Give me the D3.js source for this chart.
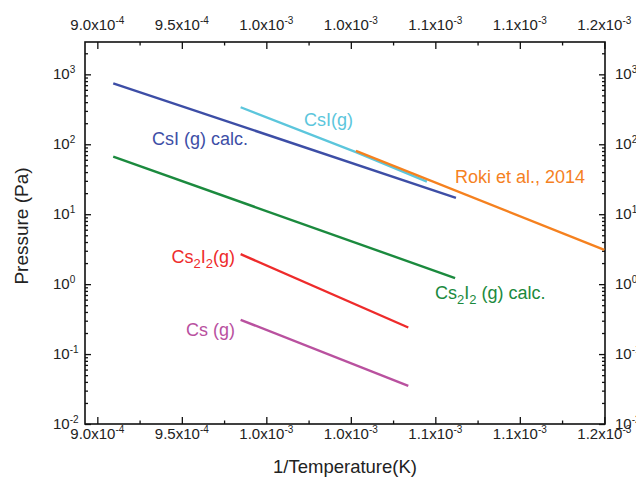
<!DOCTYPE html>
<html>
<head>
<meta charset="utf-8">
<script src="https://cdn.jsdelivr.net/npm/d3@7"></script>
<style>
  html, body { margin: 0; padding: 0; background: #fff; }
  svg { display: block; font-family: Arial, "Liberation Sans", sans-serif; }
</style>
</head>
<body>
<svg id="chart" width="636" height="479"></svg>
<script>
// Vapour pressure vs inverse temperature (log scale)
const xTickValues = [9.0e-4, 9.5e-4, 1.0e-3, 1.05e-3, 1.1e-3, 1.15e-3, 1.2e-3];
const xTickMantissa = ["9.0", "9.5", "1.0", "1.0", "1.1", "1.1", "1.2"];
const xTickExponent = ["-4", "-4", "-3", "-3", "-3", "-3", "-3"];
const yTickValues = [1e-2, 1e-1, 1e0, 1e1, 1e2, 1e3];
const yTickExponent = ["-2", "-1", "0", "1", "2", "3"];

// Each series: [1/T, pressure in Pa] end points
const csiCalc = [[9.094e-4, 744], [1.1122e-3, 17.1]];
const cs2i2Calc = [[9.094e-4, 66.5], [1.1117e-3, 1.22]];
const csiMeas = [[9.848e-4, 352], [1.053e-3, 80.2], [1.095e-3, 30.5]];
const roki2014 = [[1.053e-3, 80.2], [1.2e-3, 3.1]];
const cs2i2Meas = [[9.848e-4, 2.68], [1.084e-3, 0.240]];
const csMeas = [[9.848e-4, 0.309], [1.084e-3, 0.0352]];

// names split into [text, isSubscript] runs
const seriesNames = [
  [["CsI (g) calc.", false]],
  [["Cs", false], ["2", true], ["I", false], ["2", true], [" (g) calc.", false]],
  [["CsI(g)", false]],
  [["Roki et al., 2014", false]],
  [["Cs", false], ["2", true], ["I", false], ["2", true], ["(g)", false]],
  [["Cs (g)", false]]
];
const seriesData = [csiCalc, cs2i2Calc, csiMeas, roki2014, cs2i2Meas, csMeas];
const seriesColors = ["#3d4ea6", "#1b8a3e", "#5cc6dc", "#f5811f", "#ee2b2b", "#b9519f"];

const svg = d3.select("#chart");
const plot = { left: 85, right: 605, top: 42, bottom: 424 };

const x = d3.scaleLinear().domain([8.927e-4, 1.2004e-3]).range([plot.left, plot.right]);
const y = d3.scaleLog().domain([0.01, 2900]).range([plot.bottom, plot.top]);

const xMinor = xTickValues.slice(0, -1).map((v, i) => (v + xTickValues[i + 1]) / 2);
const yMinor = [];
for (let e = -2; e <= 3; e++) {
  for (let m = 2; m <= 9; m++) {
    const v = m * Math.pow(10, e);
    if (v <= 2900) yMinor.push(v);
  }
}

function styleAxis(g) {
  g.select(".domain").remove();
  g.selectAll("line").attr("stroke", "#111").attr("stroke-width", 1.3);
}

// ticks on all four sides, pointing inward
svg.append("g").attr("transform", `translate(0,${plot.bottom})`)
  .call(d3.axisBottom(x).tickValues(xTickValues).tickSize(-7).tickFormat("")).call(styleAxis);
svg.append("g").attr("transform", `translate(0,${plot.bottom})`)
  .call(d3.axisBottom(x).tickValues(xMinor).tickSize(-3.5).tickFormat("")).call(styleAxis);
svg.append("g").attr("transform", `translate(0,${plot.top})`)
  .call(d3.axisTop(x).tickValues(xTickValues).tickSize(-7).tickFormat("")).call(styleAxis);
svg.append("g").attr("transform", `translate(0,${plot.top})`)
  .call(d3.axisTop(x).tickValues(xMinor).tickSize(-3.5).tickFormat("")).call(styleAxis);

svg.append("g").attr("transform", `translate(${plot.left},0)`)
  .call(d3.axisLeft(y).tickValues(yTickValues).tickSize(-6).tickFormat("")).call(styleAxis);
svg.append("g").attr("transform", `translate(${plot.left},0)`)
  .call(d3.axisLeft(y).tickValues(yMinor).tickSize(-3).tickFormat("")).call(styleAxis);
svg.append("g").attr("transform", `translate(${plot.right},0)`)
  .call(d3.axisRight(y).tickValues(yTickValues).tickSize(-6).tickFormat("")).call(styleAxis);
svg.append("g").attr("transform", `translate(${plot.right},0)`)
  .call(d3.axisRight(y).tickValues(yMinor).tickSize(-3).tickFormat("")).call(styleAxis);

// frame
svg.append("rect")
  .attr("x", plot.left).attr("y", plot.top)
  .attr("width", plot.right - plot.left).attr("height", plot.bottom - plot.top)
  .attr("fill", "none").attr("stroke", "#111").attr("stroke-width", 1.6);

// x tick labels, top and bottom
function xLabels(baseline) {
  xTickValues.forEach((v, i) => {
    const t = svg.append("text")
      .attr("x", x(v)).attr("y", baseline)
      .attr("text-anchor", "middle")
      .attr("font-size", 15).attr("fill", "#222");
    t.append("tspan").text(xTickMantissa[i] + "x10");
    t.append("tspan").attr("dy", -6).attr("font-size", 10).text(xTickExponent[i]);
  });
}
xLabels(439);
xLabels(30);

// y tick labels, left and right
function yLabels(xStart) {
  yTickValues.forEach((v, i) => {
    const t = svg.append("text")
      .attr("x", xStart).attr("y", y(v) + 5)
      .attr("font-size", 15).attr("fill", "#222");
    t.append("tspan").text("10");
    t.append("tspan").attr("dy", -6).attr("font-size", 10).text(yTickExponent[i]);
  });
}
yLabels(53);
yLabels(615);

// axis titles
svg.append("text")
  .attr("x", 345).attr("y", 473)
  .attr("text-anchor", "middle").attr("font-size", 18.5).attr("fill", "#222")
  .text("1/Temperature(K)");
svg.append("text")
  .attr("transform", "translate(28,226) rotate(-90)")
  .attr("text-anchor", "middle").attr("font-size", 19).attr("fill", "#222")
  .text("Pressure (Pa)");

// lines
const line = d3.line().x(d => x(d[0])).y(d => y(d[1]));
const lineLayer = svg.append("g");
seriesData.forEach((data, i) => {
  lineLayer.append("path")
    .datum(data)
    .attr("d", line)
    .attr("fill", "none")
    .attr("stroke", seriesColors[i])
    .attr("stroke-width", 2.4)
    .attr("transform", i === 2 ? "translate(0,1.2)" : null);
});

// series annotations: anchor point in px, text-anchor
const labelLayout = [
  { x: 152, y: 145, anchor: "start" },
  { x: 435, y: 299, anchor: "start" },
  { x: 304, y: 126, anchor: "start" },
  { x: 455, y: 183, anchor: "start" },
  { x: 235, y: 263, anchor: "end" },
  { x: 235, y: 336, anchor: "end" }
];

seriesNames.forEach((runs, i) => {
  const L = labelLayout[i];
  const t = svg.append("text")
    .attr("x", L.x).attr("y", L.y)
    .attr("text-anchor", L.anchor)
    .attr("font-size", 18)
    .attr("fill", seriesColors[i]);
  let shift = 0;
  runs.forEach(([s, isSub]) => {
    const target = isSub ? 5 : 0;
    t.append("tspan")
      .attr("dy", target - shift)
      .attr("font-size", isSub ? 13 : 18)
      .text(s);
    shift = target;
  });
});
</script>
</body>
</html>
